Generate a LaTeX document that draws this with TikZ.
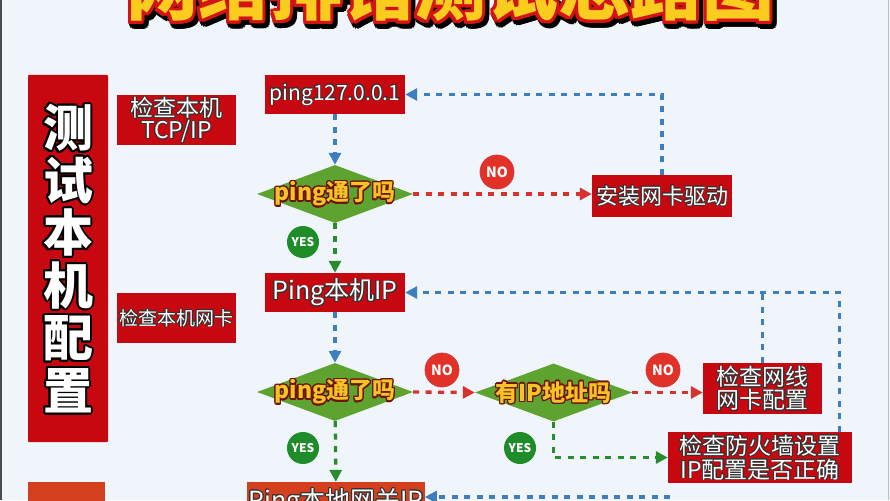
\documentclass[tikz,border=0pt]{standalone}
\usepackage{fontspec}
\setmainfont{Noto Sans CJK SC}
\usepackage{tikz}
\usetikzlibrary{arrows.meta, positioning, shapes.geometric, calc}
\definecolor{bgblue}{RGB}{239,245,250}
\definecolor{boxred}{RGB}{200,8,16}
\definecolor{boxorange}{RGB}{212,64,30}
\definecolor{diagreen}{RGB}{94,162,48}
\definecolor{yesgreen}{RGB}{30,140,40}
\definecolor{nored}{RGB}{226,50,40}
\definecolor{lineblue}{RGB}{62,125,190}
\definecolor{linered}{RGB}{215,50,45}
\definecolor{linegreen}{RGB}{40,140,45}
\definecolor{titleyellow}{RGB}{250,204,30}
\definecolor{titlered}{RGB}{212,20,20}
\definecolor{textyellow}{RGB}{245,195,40}
\definecolor{textbrown}{RGB}{110,20,10}

% outlined text: [width]{outline colour}{fill colour}{text}
\newcommand{\olt}[4][0.7pt]{%
  \begingroup
  \setbox0=\hbox{#4}%
  \rlap{\color{#2}\foreach \a in {0,22.5,...,337.5}{%
      \pgfmathsetlengthmacro\dx{#1*cos(\a)}%
      \pgfmathsetlengthmacro\dy{#1*sin(\a)}%
      \rlap{\kern\dx\raise\dy\copy0}}}%
  \textcolor{#3}{\box0}%
  \endgroup}

\begin{document}
\begin{tikzpicture}[x=1pt,y=-1pt,
    redbox/.style={fill=boxred, text=white, inner sep=1pt, align=center},
    decision/.style={diamond, fill=diagreen, inner sep=0pt, minimum width=156pt, minimum height=58pt},
    dtext/.style={font=\fontsize{23pt}{23pt}\selectfont\bfseries},
    nocirc/.style={circle, fill=nored, draw=boxred!80, line width=0.8pt, minimum size=34pt, inner sep=0pt, text=white, font=\fontsize{14pt}{14pt}\selectfont\bfseries},
    yescirc/.style={circle, fill=yesgreen, minimum size=32pt, inner sep=0pt, text=white, font=\fontsize{12pt}{12pt}\selectfont\bfseries},
    flow/.style={line width=3.3pt, dash pattern=on 6pt off 6.5pt, -{Triangle[length=12pt,width=12pt]}},
    blueflow/.style={flow, draw=lineblue},
    redflow/.style={flow, draw=linered},
    greenflow/.style={flow, draw=linegreen},
    bluedash/.style={line width=3.3pt, dash pattern=on 6pt off 6.5pt, draw=lineblue}]
    \useasboundingbox (0,0) rectangle (890,500);
    \clip (0,0) rectangle (890,500);
    \fill[bgblue] (0,0) rectangle (890,500);
    \draw[black!70, line width=2pt] (1,0) -- (1,500);
    \draw[black!25, line width=1pt] (888,0) -- (888,500);

    % title (cut at the top)
    \node[anchor=base, font=\fontsize{72pt}{72pt}\selectfont\bfseries] (titleshadow) at (453,18) {\olt[4.5pt]{black}{black}{网络排错测试思路图}};
    \node[anchor=base, font=\fontsize{72pt}{72pt}\selectfont\bfseries] (title) at (450,15) {\olt[3pt]{titlered}{titleyellow}{网络排错测试思路图}};

    % left column
    \node[redbox, rounded corners=1pt, minimum width=80pt, minimum height=367pt, font=\fontsize{50pt}{52.5pt}\selectfont\bfseries] (localcfg) at (68,258.5)
        {\olt[2pt]{black}{white}{测}\\\olt[2pt]{black}{white}{试}\\\olt[2pt]{black}{white}{本}\\\olt[2pt]{black}{white}{机}\\\olt[2pt]{black}{white}{配}\\\olt[2pt]{black}{white}{置}};
    \node[redbox, minimum width=119pt, minimum height=50pt, font=\fontsize{23pt}{22pt}\selectfont] (chktcp) at (176.5,120)
        {\olt{black!80}{white}{检查本机}\\\olt{black!80}{white}{TCP/IP}};
    \node[redbox, minimum width=119pt, minimum height=50pt, font=\fontsize{19pt}{19pt}\selectfont] (chknic) at (176.5,318)
        {\olt{black!80}{white}{检查本机网卡}};
    \node[fill=boxorange, minimum width=77pt, minimum height=96pt] (nextcfg) at (66.5,530) {};

    % main column
    \node[redbox, minimum width=140pt, minimum height=39pt, font=\fontsize{21pt}{21pt}\selectfont] (ping127) at (335,94.5)
        {\olt{black!80}{white}{ping127.0.0.1}};
    \node[decision] (d1) at (335,194) {};
    \node[dtext] (d1t) at (d1) {\olt[1.3pt]{textbrown}{textyellow}{ping通了吗}};
    \node[yescirc] (yes1) at (303,242) {YES};
    \node[redbox, minimum width=140pt, minimum height=39pt, font=\fontsize{25pt}{25pt}\selectfont] (pingip) at (335,292.5)
        {\olt{black!80}{white}{Ping本机IP}};
    \node[decision] (d2) at (335,392) {};
    \node[dtext] (d2t) at (d2) {\olt[1.3pt]{textbrown}{textyellow}{ping通了吗}};
    \node[yescirc] (yes2) at (303,448) {YES};
    \node[redbox, fill=boxorange, minimum width=162pt, minimum height=40pt, font=\fontsize{25pt}{25pt}\selectfont] (gw) at (336,502)
        {\olt{black!80}{white}{Ping本地网关IP}};

    % right part
    \node[nocirc] (no1) at (497,172) {NO};
    \node[redbox, minimum width=140pt, minimum height=42pt, font=\fontsize{22pt}{22pt}\selectfont] (drv) at (662,196)
        {\olt{black!80}{white}{安装网卡驱动}};
    \node[nocirc] (no2) at (442,370) {NO};
    \node[decision, minimum width=157pt] (d3) at (553.5,392.5) {};
    \node[dtext] (d3t) at (d3) {\olt[1.3pt]{textbrown}{textyellow}{有IP地址吗}};
    \node[nocirc] (no3) at (663,370) {NO};
    \node[yescirc] (yes3) at (520,448) {YES};
    \node[redbox, minimum width=119pt, minimum height=51pt, font=\fontsize{23pt}{23pt}\selectfont] (wire) at (762.5,388.5)
        {\olt{black!80}{white}{检查网线}\\\olt{black!80}{white}{网卡配置}};
    \node[redbox, minimum width=184pt, minimum height=51pt, font=\fontsize{23pt}{22pt}\selectfont] (fw) at (760,457.5)
        {\olt{black!80}{white}{检查防火墙设置}\\\olt{black!80}{white}{IP配置是否正确}};
    \coordinate (gwback) at (670,497);

    % connectors
    \draw[blueflow] (ping127) -- (d1);
    \draw[greenflow] (d1) -- (pingip);
    \draw[blueflow] (pingip) -- (d2);
    \draw[greenflow] (d2) -- (gw);
    \draw[redflow] (d1.east) -- (d1.east -| drv.west);
    \draw[blueflow] (drv.north) |- (ping127.east);
    \draw[redflow] (d2.east) -- (d3.west);
    \draw[redflow] (d3.east) -- (d3.east -| wire.west);
    \draw[greenflow] (d3.south) |- (fw.west);
    \draw[blueflow] ([xshift=-13pt]fw.north east) |- (pingip.east);
    \draw[bluedash] (wire.north) -- (wire.north |- pingip.east);
    \draw[blueflow] (gwback) -- (gwback -| gw.east);
\end{tikzpicture}
\end{document}
